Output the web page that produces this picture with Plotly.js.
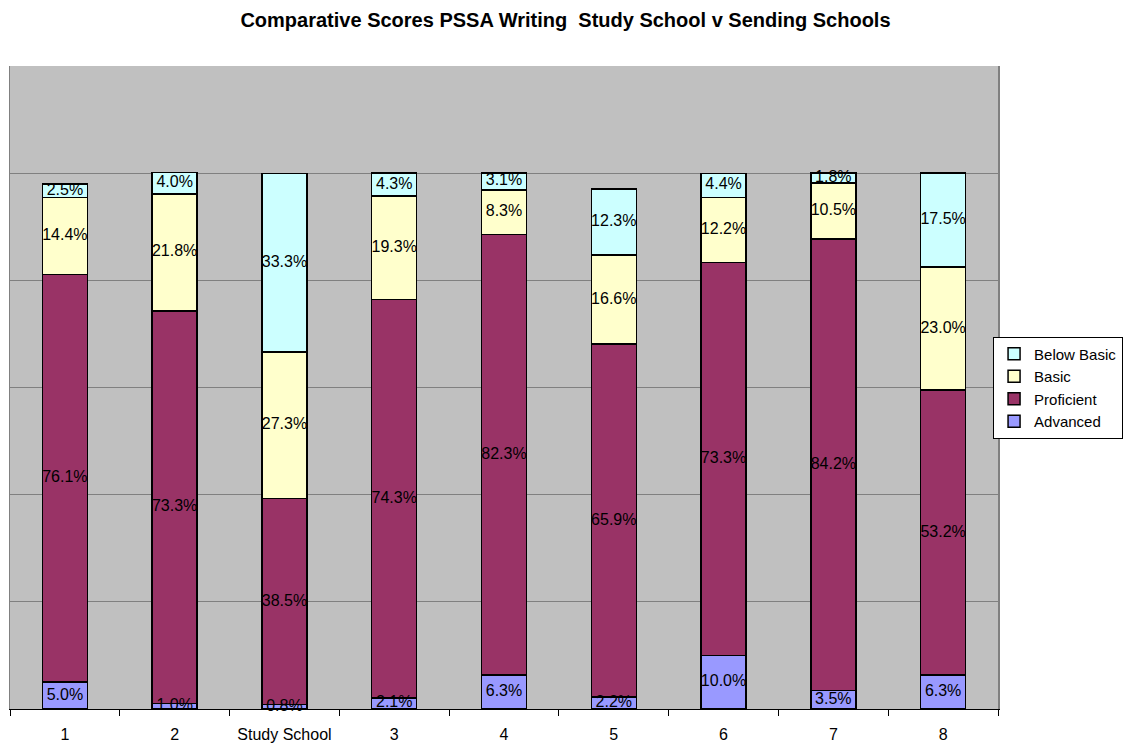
<!DOCTYPE html>
<html><head><meta charset="utf-8">
<script src="https://cdn.plot.ly/plotly-3.0.1.min.js"></script>
<style>html,body{margin:0;padding:0;background:#fff}</style>
</head><body>
<div id="chart" style="width:1131px;height:743px"></div>
<script>
const categories = ["1","2","Study School","3","4","5","6","7","8"];
const advanced   = [5.0, 1.0, 0.8, 2.1, 6.3, 2.2, 10.0, 3.5, 6.3];
const proficient = [76.1, 73.3, 38.5, 74.3, 82.3, 65.9, 73.3, 84.2, 53.2];
const basic      = [14.4, 21.8, 27.3, 19.3, 8.3, 16.6, 12.2, 10.5, 23.0];
const belowBasic = [2.5, 4.0, 33.3, 4.3, 3.1, 12.3, 4.4, 1.8, 17.5];

const series = [
  {name:"Advanced", vals:advanced, color:"#9999FF"},
  {name:"Proficient", vals:proficient, color:"#993366"},
  {name:"Basic", vals:basic, color:"#FFFFCC"},
  {name:"Below Basic", vals:belowBasic, color:"#CCFFFF"}
];

const traces = [];
const base = categories.map(()=>0);
const labelTraces = [];
series.forEach(s=>{
  traces.push({
    type:"bar", name:s.name, x:categories, y:s.vals,
    marker:{color:s.color, line:{color:"#000", width:1.5}},
    width:0.41, hoverinfo:"name+y"
  });
  labelTraces.push({
    type:"scatter", mode:"text", showlegend:false, hoverinfo:"skip",
    x:categories, y:s.vals.map((v,i)=>base[i]+v/2),
    text:s.vals.map(v=>v.toFixed(1)+"%"),
    textfont:{family:"Liberation Sans, Arial, sans-serif", size:16, color:"#000"},
    cliponaxis:false
  });
  s.vals.forEach((v,i)=>base[i]+=v);
});

const layout = {
  width:1131, height:743,
  margin:{l:10, r:133, t:66, b:34, autoexpand:false},
  paper_bgcolor:"#fff", plot_bgcolor:"#C0C0C0",
  barmode:"stack",
  font:{family:"Liberation Sans, Arial, sans-serif", size:16, color:"#000"},
  title:{text:"<b>Comparative Scores PSSA Writing  Study School v Sending Schools</b>",
    x:0.5, xref:"container", xanchor:"center", y:0.973, yanchor:"middle",
    font:{size:20, family:"Liberation Sans, Arial, sans-serif", color:"#000"}},
  xaxis:{type:"category", showgrid:false, showline:true, linecolor:"#000", linewidth:1,
    ticks:"outside", tickson:"boundaries", ticklen:6, tickcolor:"#000",
    tickfont:{size:16}, ticklabelstandoff:11, fixedrange:true},
  yaxis:{range:[0,120], dtick:20, showticklabels:false, showgrid:true, gridcolor:"#808080",
    gridwidth:1, zeroline:false, showline:true, mirror:true, linecolor:"#808080", linewidth:1.5, ticks:""},
  legend:{x:0.995, xanchor:"left", y:0.50, yanchor:"middle", bgcolor:"#fff",
    bordercolor:"#000", borderwidth:1, traceorder:"reversed",
    font:{size:15}, itemwidth:30, tracegroupgap:0},
  showlegend:true
};

Plotly.newPlot("chart", traces.concat(labelTraces), layout, {displayModeBar:false, staticPlot:true});
</script>
</body></html>
